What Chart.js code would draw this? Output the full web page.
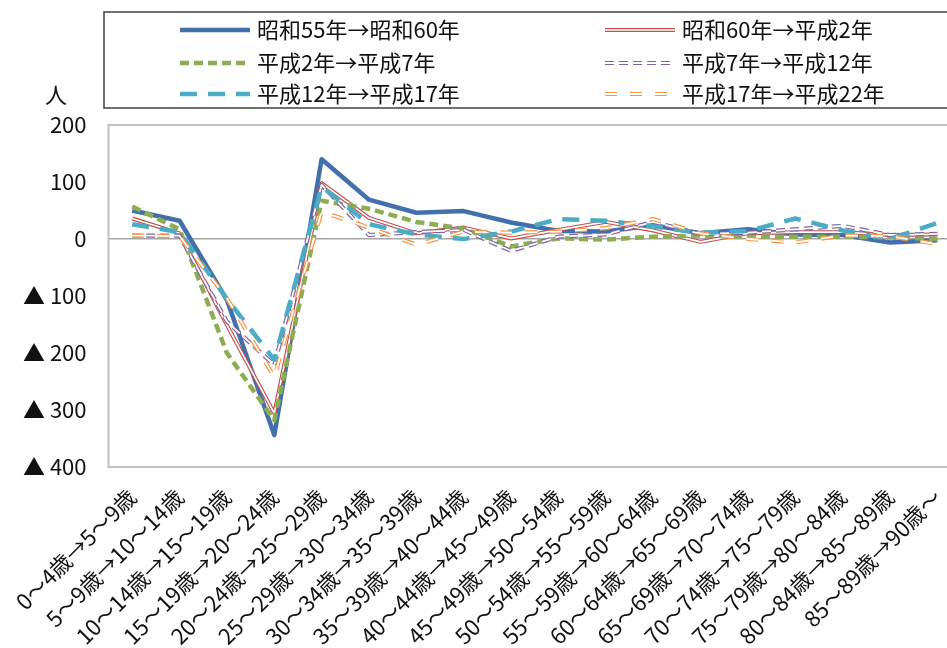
<!DOCTYPE html>
<html lang="ja">
<head>
<meta charset="utf-8">
<title>年齢階級別 純移動数の推移</title>
<script src="https://cdn.jsdelivr.net/npm/chart.js@4.4.1/dist/chart.umd.min.js"></script>
<style>
  html, body { margin: 0; padding: 0; background: #fff; overflow: hidden; width: 947px; height: 648px; }
  #wrap { position: relative; width: 980px; height: 648px; }
  canvas { display: block; }
</style>
</head>
<body>
<div id="wrap"><canvas id="chart" width="980" height="648"></canvas></div>
<script>
// 年齢階級（5年後の年齢階級への移行）
const categories = [
  '0～4歳→5～9歳', '5～9歳→10～14歳', '10～14歳→15～19歳', '15～19歳→20～24歳',
  '20～24歳→25～29歳', '25～29歳→30～34歳', '30～34歳→35～39歳', '35～39歳→40～44歳',
  '40～44歳→45～49歳', '45～49歳→50～54歳', '50～54歳→55～59歳', '55～59歳→60～64歳',
  '60～64歳→65～69歳', '65～69歳→70～74歳', '70～74歳→75～79歳', '75～79歳→80～84歳',
  '80～84歳→85～89歳', '85～89歳→90歳～'
];

// 期間ごとの純移動数（人）
const seriesNames = [
  '昭和55年→昭和60年', '昭和60年→平成2年', '平成2年→平成7年',
  '平成7年→平成12年', '平成12年→平成17年', '平成17年→平成22年'
];
const s55to60 = [50, 32, -107, -344, 140, 69, 46, 49, 29, 14, 13, 24, 10, 17, 8, 7, -6, -2];
const s60toH2 = [36, 10, -151, -306, 98, 37, 10, 20, 1, 16, 30, 15, -5, 10, 12, 12, 7, 8];
const h2toH7 = [57, 17, -200, -318, 67, 53, 30, 18, -13, 1, -1, 4, 6, 4, 4, 4, 3, 0];
const h7toH12 = [6, 6, -145, -221, 95, 7, 12, 16, -21, 4, 8, 30, 9, 11, 17, 23, 7, 9];
const h12toH17 = [26, 12, -105, -212, 92, 26, 8, 0, 13, 35, 32, 22, 11, 14, 36, 15, 0, 28];
const h17toH22 = [6, 5, -104, -242, 48, 20, -10, 13, 11, 13, 19, 35, 10, 0, -6, 6, 5, -9];

// 縦軸の目盛り（負の値は▲で表示）
const yTickValues = [200, 100, 0, -100, -200, -300, -400];
const yTickLabels = ['200', '100', '0', '▲ 100', '▲ 200', '▲ 300', '▲ 400'];
const yUnit = '人';

const FONT = "'Noto Sans CJK JP', 'Noto Sans', sans-serif";
const TEXT = '#111111';

const styles = [
  { color: '#4170ad', width: 4.5, dash: [] },
  { color: '#c0504d', width: 4, dash: [], inner: 1.7 },
  { color: '#8cad52', width: 4.5, dash: [9, 5] },
  { color: '#8064a2', width: 4.2, dash: [9, 5], inner: 1.8 },
  { color: '#4bacc6', width: 4.5, dash: [17, 11] },
  { color: '#f79646', width: 4.2, dash: [12, 13], inner: 1.8 }
];
const values = [s55to60, s60toH2, h2toH7, h7toH12, h12toH17, h17toH22];

const datasets = values.map((v, i) => ({
  label: seriesNames[i],
  data: v,
  borderColor: styles[i].color,
  backgroundColor: styles[i].color,
  borderWidth: styles[i].width,
  borderDash: styles[i].dash,
  innerWidth: styles[i].inner || 0,
  borderJoinStyle: 'round',
  borderCapStyle: 'butt',
  pointRadius: 0,
  pointHoverRadius: 0,
  tension: 0,
  fill: false,
  order: values.length - i
}));

// 二重線（白抜き）の内側を描く
const doubleLine = {
  id: 'doubleLine',
  afterDatasetDraw(chart, args) {
    const ds = chart.data.datasets[args.index];
    if (!ds.innerWidth) return;
    const pts = args.meta.data;
    const ctx = chart.ctx;
    const a = chart.chartArea;
    ctx.save();
    ctx.beginPath();
    ctx.rect(a.left, a.top, a.right - a.left, a.bottom - a.top);
    ctx.clip();
    ctx.beginPath();
    pts.forEach((p, i) => (i ? ctx.lineTo(p.x, p.y) : ctx.moveTo(p.x, p.y)));
    ctx.strokeStyle = '#ffffff';
    ctx.lineWidth = ds.innerWidth;
    ctx.setLineDash(ds.borderDash || []);
    ctx.lineJoin = 'round';
    ctx.stroke();
    ctx.restore();
  }
};

// プロットエリアの枠
const plotFrame = {
  id: 'plotFrame',
  beforeDatasetsDraw(chart) {
    const a = chart.chartArea;
    const ctx = chart.ctx;
    ctx.save();
    ctx.strokeStyle = '#bfbfbf';
    ctx.lineWidth = 2;
    ctx.strokeRect(a.left, a.top, a.right - a.left, a.bottom - a.top);
    ctx.restore();
  }
};

// 凡例（2列×3行）と単位
const boxLegend = {
  id: 'boxLegend',
  afterDraw(chart) {
    const ctx = chart.ctx;
    ctx.save();
    ctx.strokeStyle = '#404040';
    ctx.lineWidth = 1.5;
    ctx.strokeRect(104, 12, chart.width, 96);

    const colX = [180, 605];
    const rowY = [30, 63, 94];
    chart.data.datasets.forEach((ds, i) => {
      const x0 = colX[i % 2];
      const y = rowY[Math.floor(i / 2)];
      const x1 = x0 + 70;
      ctx.beginPath();
      ctx.moveTo(x0, y);
      ctx.lineTo(x1, y);
      ctx.strokeStyle = ds.borderColor;
      ctx.lineWidth = ds.borderWidth;
      ctx.setLineDash(ds.borderDash);
      ctx.lineCap = 'butt';
      ctx.stroke();
      if (ds.innerWidth) {
        ctx.strokeStyle = '#ffffff';
        ctx.lineWidth = ds.innerWidth;
        ctx.stroke();
      }
      ctx.setLineDash([]);
      ctx.fillStyle = TEXT;
      ctx.font = '22px ' + FONT;
      ctx.textAlign = 'left';
      ctx.textBaseline = 'middle';
      ctx.fillText(ds.label, x1 + 7, y);
    });

    ctx.font = '22px ' + FONT;
    ctx.textAlign = 'center';
    ctx.textBaseline = 'middle';
    ctx.fillStyle = TEXT;
    ctx.fillText(yUnit, 56, 95);
    ctx.restore();
  }
};

new Chart(document.getElementById('chart'), {
  type: 'line',
  data: { labels: categories, datasets },
  plugins: [plotFrame, doubleLine, boxLegend],
  options: {
    responsive: false,
    animation: false,
    events: [],
    layout: { padding: { top: 125, right: 19, left: 0, bottom: 0 } },
    plugins: { legend: { display: false }, tooltip: { enabled: false }, title: { display: false } },
    scales: {
      x: {
        offset: true,
        grid: { display: false, drawTicks: false },
        border: { display: false },
        ticks: {
          autoSkip: false,
          maxRotation: 45,
          minRotation: 45,
          padding: 17,
          color: TEXT,
          font: { family: FONT, size: 22 }
        },
        afterFit(scale) { scale.height = 181; }
      },
      y: {
        min: -400,
        max: 200,
        grid: {
          drawTicks: false,
          lineWidth: 1.5,
          color: c => (c.tick && c.tick.value === 0 ? '#a6a6a6' : 'rgba(0,0,0,0)')
        },
        border: { display: false },
        ticks: {
          stepSize: 100,
          padding: 22,
          color: TEXT,
          font: { family: FONT, size: 22 },
          callback: v => {
            const k = yTickValues.indexOf(v);
            return k >= 0 ? yTickLabels[k] : '';
          }
        },
        afterFit(scale) { scale.width = 104; }
      }
    }
  }
});
</script>
</body>
</html>
